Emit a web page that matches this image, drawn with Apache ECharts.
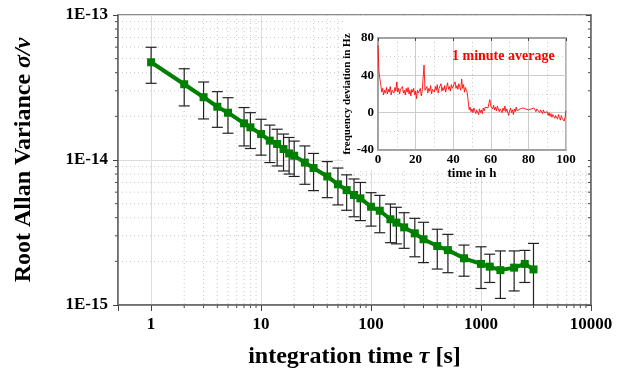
<!DOCTYPE html>
<html><head><meta charset="utf-8">
<script src="https://cdn.jsdelivr.net/npm/echarts@6/dist/echarts.min.js"></script>
<style>html,body{margin:0;padding:0;background:#fff}#c{width:631px;height:371px}</style>
</head><body><div id="c"></div>
<script>
var tau = [1,2,3,4,5,7,8,10,12,14,16,18,20,25,30,40,50,60,70,80,100,120,150,170,200,250,300,400,500,700,1000,1200,1500,2000,2500,3000];
var sigma = [4.72e-14,3.33e-14,2.71e-14,2.33e-14,2.12e-14,1.79e-14,1.68e-14,1.51e-14,1.36e-14,1.29e-14,1.19e-14,1.11e-14,1.07e-14,9.6e-15,8.8e-15,7.7e-15,6.8e-15,6.2e-15,5.74e-15,5.44e-15,4.76e-15,4.47e-15,3.9e-15,3.7e-15,3.43e-15,3.12e-15,2.84e-15,2.55e-15,2.39e-15,2.1e-15,1.92e-15,1.84e-15,1.74e-15,1.81e-15,1.92e-15,1.76e-15];
var errHigh = [5.99e-14,4.26e-14,3.45e-14,2.96e-14,2.69e-14,2.30e-14,2.12e-14,1.91e-14,1.74e-14,1.63e-14,1.51e-14,1.43e-14,1.35e-14,1.25e-14,1.11e-14,9.75e-15,8.8e-15,7.9e-15,7.4e-15,7.0e-15,5.95e-15,5.7e-15,4.97e-15,4.72e-15,4.33e-15,3.96e-15,3.72e-15,3.33e-15,3.07e-15,2.59e-15,2.52e-15,2.24e-15,2.36e-15,2.36e-15,2.38e-15,2.66e-15];
var errLow = [3.38e-14,2.36e-14,1.92e-14,1.68e-14,1.53e-14,1.25e-14,1.20e-14,1.08e-14,9.6e-15,9.1e-15,8.4e-15,8.0e-15,7.7e-15,6.8e-15,6.15e-15,5.5e-15,4.9e-15,4.5e-15,4.06e-15,3.82e-15,3.5e-15,3.15e-15,2.69e-15,2.64e-15,2.46e-15,2.15e-15,1.96e-15,1.77e-15,1.67e-15,1.58e-15,1.30e-15,1.43e-15,1.11e-15,1.25e-15,1.43e-15,5e-16];

var xDecades = [1,10,100,1000];
var yDecades = [1e-15,1e-14];
var minorSteps = [2,3,4,5,6,7,8,9];

var insetStepH = 0.5;
var freqDev = [
72,45,36,30,22,26,19,24,21,27,
20,25,22,28,19,24,26,21,27,23,
33,22,26,20,25,23,28,21,24,19,
26,22,27,20,24,18,25,22,26,19,
23,15,24,21,19,26,18,23,25,51,
24,22,28,21,26,23,29,20,25,27,
22,28,24,30,21,26,25,31,23,27,
24,29,22,27,32,25,28,23,30,26,
28,24,33,26,29,25,31,27,24,36,
26,30,22,27,24,21,12,3,6,1,
4,0,5,2,-1,3,1,-2,4,0,
3,-1,5,2,6,4,8,5,10,14,
7,9,4,8,3,6,2,7,5,1,
4,6,0,5,2,7,1,4,3,-3,
2,5,0,3,-2,4,1,6,2,3,
0,4,6,2,5,3,7,4,2,6,
3,5,1,4,6,2,5,3,1,4,
2,4,0,3,1,-1,3,0,2,-2,
1,-3,0,-4,-1,-5,-2,0,-6,-3,
-4,-7,-2,-5,-8,-3,-6,-4,-9,-5,
2];

var FF = 'Liberation Serif';
var minorX = [], minorY = [];
xDecades.forEach(function(d){ minorSteps.forEach(function(m){ minorX.push([d*m, 1e-14]); }); });
yDecades.forEach(function(d){ minorSteps.forEach(function(m){ minorY.push([1, d*m]); }); });
var mainData = tau.map(function(t,i){ return [t, sigma[i]]; });
var errData = tau.map(function(t,i){ return [t, errLow[i], errHigh[i]]; });
var insetData = freqDev.map(function(v,i){ return [i*insetStepH, v]; });

function fmtPow(v){
  var e = Math.log10(v);
  if (Math.abs(e - Math.round(e)) > 1e-6) return '';
  return v >= 1 ? String(Math.round(v)) : '1E' + Math.round(e);
}

var chart = echarts.init(document.getElementById('c'), null, {renderer:'canvas'});
var boldLbl = {fontFamily:FF, fontWeight:'bold', color:'#000'};

chart.setOption({
  animation:false,
  backgroundColor:'#fff',
  grid:[
    {left:118, top:15, width:473, height:290, show:true, borderColor:'#666', borderWidth:1.5, backgroundColor:'transparent', z:0, containLabel:false, outerBoundsMode:'none'},
    {left:378, top:38, width:188, height:112, show:true, borderColor:'#999', borderWidth:1.5, backgroundColor:'#fff', z:2, containLabel:false, outerBoundsMode:'none'}
  ],
  graphic:[
    {type:'rect', shape:{x:343, y:16, width:245, height:154}, style:{fill:'#fff'}, z:1, silent:true},
    {type:'text', left:452, top:49, z:100, style:{text:'1 minute average', fill:'#ff0000', font:'bold 14px "Liberation Serif"'}}
  ],
  xAxis:[
    {type:'log', logBase:10, gridIndex:0, min:0.5, max:10000, z:0,
     axisLine:{show:true, onZero:false, lineStyle:{color:'#666', width:1.5}},
     axisTick:{show:true, length:6, lineStyle:{color:'#444'}},
     axisLabel:Object.assign({fontSize:17, margin:11, formatter:fmtPow}, boldLbl),
     splitLine:{show:true, lineStyle:{color:'#ddd', width:1}},
     name:'{n|integration time }{i|τ}{n| [s]}', nameLocation:'middle', nameGap:40,
     nameTextStyle:{rich:{n:{fontFamily:FF, fontWeight:'bold', fontSize:24, color:'#000'}, i:{fontFamily:FF, fontWeight:'bold', fontStyle:'italic', fontSize:24, color:'#000'}}}},
    {type:'value', gridIndex:1, min:0, max:100, interval:20, z:3,
     axisLine:{show:true, onZero:false, lineStyle:{color:'#999', width:1.5}},
     axisTick:{show:false},
     axisLabel:Object.assign({fontSize:13, margin:3}, boldLbl),
     splitLine:{show:true, lineStyle:{color:'#ccc', width:1}},
     minorTick:{show:false, splitNumber:2},
     minorSplitLine:{show:true, lineStyle:{color:'#ccc', width:1, type:[1,3]}},
     name:'time in h', nameLocation:'middle', nameGap:12,
     nameTextStyle:{fontFamily:FF, fontWeight:'bold', fontSize:13, color:'#000'}},
    {type:'value', gridIndex:1, position:'top', min:0, max:100, interval:20, z:3,
     axisLine:{show:true, onZero:false, lineStyle:{color:'#999', width:1.5}},
     axisTick:{show:true, inside:true, length:3, lineStyle:{color:'#444'}},
     axisLabel:{show:false}, splitLine:{show:false}}
  ],
  yAxis:[
    {type:'log', logBase:10, gridIndex:0, min:1e-15, max:1e-13, z:0,
     axisLine:{show:true, onZero:false, lineStyle:{color:'#666', width:1.5}},
     axisTick:{show:true, length:5, lineStyle:{color:'#444'}},
     axisLabel:Object.assign({fontSize:17, margin:10, formatter:fmtPow}, boldLbl),
     splitLine:{show:true, lineStyle:{color:'#ddd', width:1}},
     name:'{n|Root Allan Variance }{i|σ/ν}', nameLocation:'middle', nameGap:82, nameRotate:90,
     nameTextStyle:{rich:{n:{fontFamily:FF, fontWeight:'bold', fontSize:24, color:'#000'}, i:{fontFamily:FF, fontWeight:'bold', fontStyle:'italic', fontSize:24, color:'#000'}}}},
    {type:'log', logBase:10, gridIndex:0, position:'right', min:1e-15, max:1e-13, z:0,
     axisLine:{show:true, onZero:false, lineStyle:{color:'#666', width:1.5}},
     axisTick:{show:true, inside:true, length:5, lineStyle:{color:'#444'}},
     axisLabel:{show:false}, splitLine:{show:false}},
    {type:'value', gridIndex:1, min:-40, max:80, interval:40, z:3,
     axisLine:{show:true, onZero:false, lineStyle:{color:'#999', width:1.5}},
     axisTick:{show:false},
     axisLabel:Object.assign({fontSize:13, margin:4}, boldLbl),
     splitLine:{show:true, lineStyle:{color:'#ccc', width:1}},
     minorTick:{show:false, splitNumber:2},
     minorSplitLine:{show:true, lineStyle:{color:'#ccc', width:1, type:[1,3]}},
     name:'frequency deviation in Hz', nameLocation:'middle', nameGap:24,
     nameTextStyle:{fontFamily:FF, fontWeight:'bold', fontSize:11, color:'#000'}}
  ],
  series:[
    {type:'custom', xAxisIndex:0, yAxisIndex:0, z:0, silent:true, data:minorX,
     renderItem:function(params, api){
       var x = api.coord([api.value(0), 1e-14])[0];
       var cs = params.coordSys;
       return {type:'group', children:[
         {type:'line', shape:{x1:x, y1:cs.y, x2:x, y2:cs.y+cs.height}, style:{stroke:'#c8c8c8', lineWidth:1, lineDash:[1,3]}},
         {type:'line', shape:{x1:x, y1:cs.y+cs.height, x2:x, y2:cs.y+cs.height+3}, style:{stroke:'#444', lineWidth:1}}
       ]};
     }},
    {type:'custom', xAxisIndex:0, yAxisIndex:0, z:0, silent:true, data:minorY,
     renderItem:function(params, api){
       var y = api.coord([1, api.value(1)])[1];
       var cs = params.coordSys;
       return {type:'group', children:[
         {type:'line', shape:{x1:cs.x, y1:y, x2:cs.x+cs.width, y2:y}, style:{stroke:'#c8c8c8', lineWidth:1, lineDash:[1,3]}},
         {type:'line', shape:{x1:cs.x-3, y1:y, x2:cs.x, y2:y}, style:{stroke:'#444', lineWidth:1}},
         {type:'line', shape:{x1:cs.x+cs.width-3, y1:y, x2:cs.x+cs.width, y2:y}, style:{stroke:'#444', lineWidth:1}}
       ]};
     }},
    {type:'custom', xAxisIndex:0, yAxisIndex:0, z:2, silent:true, data:errData,
     encode:{x:0, y:[1,2]},
     renderItem:function(params, api){
       var cs = params.coordSys;
       var t = api.value(0);
       var lo = api.coord([t, api.value(1)]);
       var hi = api.coord([t, api.value(2)]);
       var w = 5.5, bottom = cs.y + cs.height;
       var ch = [];
       var ly = Math.min(lo[1], bottom);
       ch.push({type:'line', shape:{x1:hi[0], y1:hi[1], x2:hi[0], y2:ly}, style:{stroke:'#222', lineWidth:1.2}});
       ch.push({type:'line', shape:{x1:hi[0]-w, y1:hi[1], x2:hi[0]+w, y2:hi[1]}, style:{stroke:'#222', lineWidth:1.2}});
       if (lo[1] <= bottom) ch.push({type:'line', shape:{x1:lo[0]-w, y1:lo[1], x2:lo[0]+w, y2:lo[1]}, style:{stroke:'#222', lineWidth:1.2}});
       return {type:'group', children:ch};
     }},
    {type:'line', xAxisIndex:0, yAxisIndex:0, z:3, data:mainData,
     symbol:'rect', symbolSize:8, showSymbol:true,
     lineStyle:{color:'#008000', width:4}, itemStyle:{color:'#008000'}},
    {type:'line', xAxisIndex:1, yAxisIndex:2, z:5, data:insetData,
     showSymbol:false, symbol:'none',
     lineStyle:{color:'rgba(255,0,0,0.85)', width:1}}
  ]
});
</script></body></html>
